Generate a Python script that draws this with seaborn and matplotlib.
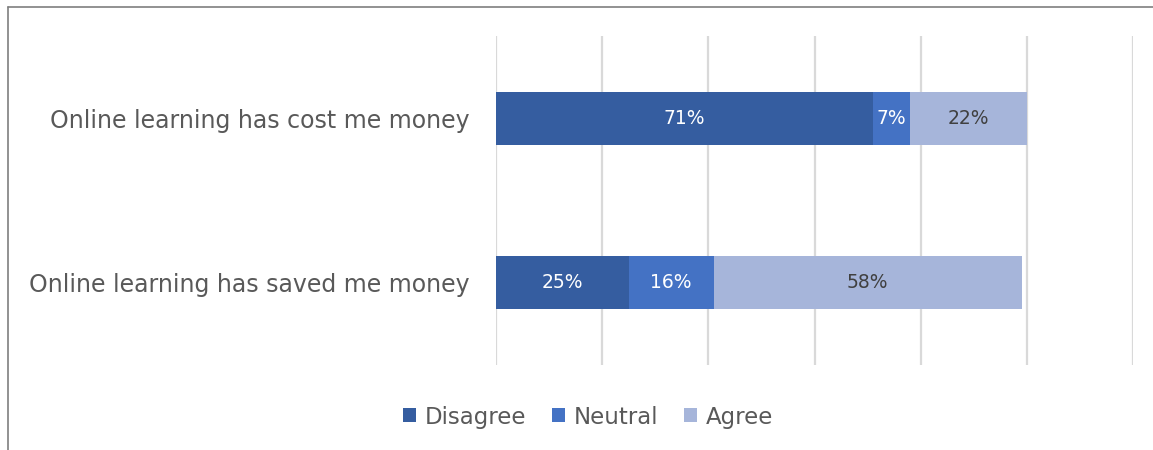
import matplotlib
matplotlib.use("Agg")
import matplotlib.pyplot as plt
from matplotlib.patches import Patch
from matplotlib.lines import Line2D
import numpy as np
import pandas as pd
import seaborn as sns

# Survey statements and response shares (%)
statements = ["Online learning has cost me money", "Online learning has saved me money"]
disagree = [71, 25]
neutral = [7, 16]
agree = [22, 58]

responses = ["Disagree", "Neutral", "Agree"]
colors = {"Disagree": "#355DA0", "Neutral": "#4472C4", "Agree": "#A6B5DA"}
label_colors = {"Disagree": "white", "Neutral": "white", "Agree": "#404040"}

sns.set_theme(style="white")
plt.rcParams["font.family"] = ["DejaVu Sans"]

fig = plt.figure(figsize=(11.53, 4.5), dpi=100)
ax = fig.add_axes([0.4302, 0.1889, 0.5525, 0.7311])

df = pd.DataFrame({
    "statement": statements,
    "Disagree": disagree,
    "Neutral": neutral,
    "Agree": agree,
})
# cumulative right edges for stacking
df["c_dis"] = df["Disagree"]
df["c_neu"] = df["Disagree"] + df["Neutral"]
df["c_agr"] = df["Disagree"] + df["Neutral"] + df["Agree"]

ax.set_axisbelow(True)
for x in np.arange(0, 121, 20):
    ax.axvline(x, color="#D9D9D9", lw=1.6, zorder=0)

# draw stacked segments from the longest cumulative bar down
for col, resp in [("c_agr", "Agree"), ("c_neu", "Neutral"), ("c_dis", "Disagree")]:
    sns.barplot(data=df, y="statement", x=col, color=colors[resp], orient="h",
                width=0.32, ax=ax, saturation=1, linewidth=0, zorder=2)

# segment labels
for i, row in df.iterrows():
    start = 0
    for resp in responses:
        v = row[resp]
        ax.text(start + v / 2, i, f"{v}%", ha="center", va="center",
                fontsize=13.5, color=label_colors[resp], zorder=3)
        start += v

ax.set_xlim(0, 120)
ax.set_ylim(1.5, -0.5)
ax.set_xlabel("")
ax.set_ylabel("")
ax.set_xticks([])
ax.tick_params(axis="y", length=0, pad=19, labelsize=17, labelcolor="#595959")
for s in ax.spines.values():
    s.set_visible(False)

handles = [Patch(facecolor=colors[r], edgecolor="none", label=r) for r in responses]
leg = fig.legend(handles=handles, loc="center", bbox_to_anchor=(0.51, 0.0733), ncol=3,
                 frameon=False, fontsize=16.5, handlelength=0.57, handleheight=0.57,
                 handletextpad=0.4, columnspacing=1.1)
for t in leg.get_texts():
    t.set_color("#595959")

# outer frame (top and left edges)
fig.add_artist(Line2D([7.5 / 1153, 1], [1 - 6.5 / 450, 1 - 6.5 / 450], color="#7F7F7F", lw=1.2,
                      transform=fig.transFigure))
fig.add_artist(Line2D([7.5 / 1153, 7.5 / 1153], [0, 1 - 6.5 / 450], color="#7F7F7F", lw=1.2,
                      transform=fig.transFigure))

fig.savefig("out.png", dpi=100, facecolor="white")
